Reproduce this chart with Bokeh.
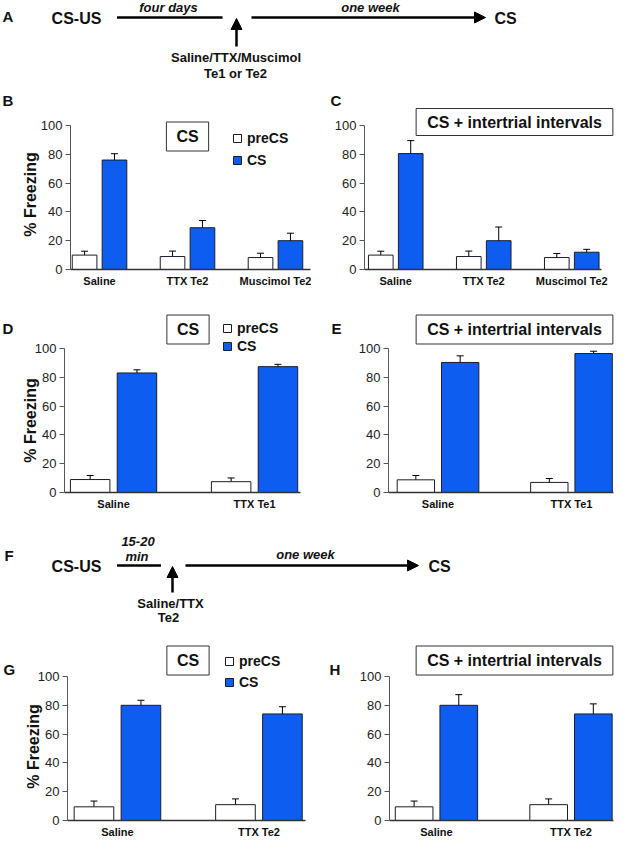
import math
from bokeh.plotting import figure
from bokeh.models import (Range1d, FixedTicker, Label, Legend, LegendItem, Whisker, TeeHead,
                          ColumnDataSource, Arrow, NormalHead)
from bokeh.layouts import column, row
from bokeh.embed import file_html
from bokeh.resources import INLINE

FONT = "Liberation Sans"
BLUE = "#0d5ef0"
EDGE = "#1c1c28"
AXC = "#333333"

# ---------------- data ----------------
groups_BC = ["Saline", "TTX Te2", "Muscimol Te2"]
B_pre = [10, 9, 8.3]
B_pre_err = [2.7, 3.8, 3.0]
B_cs = [76, 29, 20]
B_cs_err = [4.4, 5.0, 5.2]

C_pre = [10, 9, 8.3]
C_pre_err = [2.7, 3.8, 2.8]
C_cs = [80.5, 20, 12]
C_cs_err = [9.0, 9.5, 2.0]

groups_DE = ["Saline", "TTX Te1"]
D_pre = [9, 7.5]
D_pre_err = [2.8, 2.6]
D_cs = [83, 87.4]
D_cs_err = [2.2, 1.6]

E_pre = [8.8, 7.0]
E_pre_err = [3.0, 2.7]
E_cs = [90.3, 96.5]
E_cs_err = [4.6, 1.6]

groups_GH = ["Saline", "TTX Te2"]
G_pre = [9.5, 11]
G_pre_err = [4.0, 4.0]
G_cs = [80, 74]
G_cs_err = [3.5, 5.0]

H_pre = [9.5, 11]
H_pre_err = [4.0, 4.0]
H_cs = [80, 74]
H_cs_err = [7.4, 7.0]

y_ticks = [0, 20, 40, 60, 80, 100]
series_names = ["preCS", "CS"]
y_title = "% Freezing"


def bar_panel(groups, pre, pre_err, cs, cs_err, fig_box, frame, xr, off, bw,
              ylabel_pos=None, box_text=None, box_c=None, box_pad=(6, 10),
              letters=(), legend=None):
    fl, ft, fw, fh = fig_box
    L, R, T, B = frame

    def dx(px):
        return xr[0] + (px - L) / (R - L) * (xr[1] - xr[0])

    def dy(py):
        return (B - py) / (B - T) * 100.0

    p = figure(width=fw, height=fh,
               x_range=Range1d(dx(fl), dx(fl + fw)),
               y_range=Range1d(dy(ft + fh), dy(ft)),
               output_backend="svg", toolbar_location=None, min_border=0)
    p.outline_line_color = None
    p.xgrid.visible = False
    p.ygrid.visible = False
    p.background_fill_color = "white"
    p.border_fill_color = "white"

    xs = list(range(len(groups)))
    src_pre = ColumnDataSource(dict(x=[i - off for i in xs], top=pre,
                                    lo=[v - e for v, e in zip(pre, pre_err)],
                                    hi=[v + e for v, e in zip(pre, pre_err)]))
    src_cs = ColumnDataSource(dict(x=[i + off for i in xs], top=cs,
                                   lo=[v - e for v, e in zip(cs, cs_err)],
                                   hi=[v + e for v, e in zip(cs, cs_err)]))
    r_pre = p.vbar(x="x", top="top", bottom=0, width=bw, source=src_pre,
                   fill_color="white", line_color=EDGE, line_width=1)
    r_cs = p.vbar(x="x", top="top", bottom=0, width=bw, source=src_cs,
                  fill_color=BLUE, line_color=EDGE, line_width=1)
    for s in (src_pre, src_cs):
        p.add_layout(Whisker(source=s, base="x", lower="lo", upper="hi",
                             line_color="black", line_width=1,
                             lower_head=TeeHead(size=7, line_color="black", line_width=1),
                             upper_head=TeeHead(size=7, line_color="black", line_width=1)))

    # axes (drawn inside the frame at fixed data locations)
    xa = p.xaxis[0]
    xa.fixed_location = 0
    xa.bounds = (xr[0], xr[1])
    xa.ticker = FixedTicker(ticks=xs, minor_ticks=[])
    xa.major_label_overrides = {i: g for i, g in enumerate(groups)}
    xa.major_tick_out = 0
    xa.major_tick_in = 0
    xa.minor_tick_out = 0
    xa.minor_tick_in = 0
    xa.axis_line_color = AXC
    xa.axis_line_width = 1.5
    xa.major_label_text_font = FONT
    xa.major_label_text_font_size = "11px"
    xa.major_label_text_font_style = "bold"
    xa.major_label_text_color = "#111111"
    xa.major_label_standoff = 5

    ya = p.yaxis[0]
    ya.fixed_location = xr[0]
    ya.bounds = (0, 100)
    ya.ticker = FixedTicker(ticks=y_ticks, minor_ticks=[])
    ya.major_tick_out = 5
    ya.major_tick_in = 0
    ya.minor_tick_out = 0
    ya.minor_tick_in = 0
    ya.axis_line_color = "#555555"
    ya.major_tick_line_color = "#555555"
    ya.major_label_text_font = FONT
    ya.major_label_text_font_size = "13px"
    ya.major_label_text_color = "#222222"
    ya.major_label_standoff = 3

    if ylabel_pos:
        p.add_layout(Label(x=dx(ylabel_pos[0]), y=dy(ylabel_pos[1]), text=y_title,
                           angle=math.pi / 2, text_align="center", text_baseline="middle",
                           text_font=FONT, text_font_size="16px", text_font_style="bold",
                           text_color="#111111"))

    if box_text:
        p.add_layout(Label(x=dx(box_c[0]), y=dy(box_c[1]), text=box_text,
                           text_align="center", text_baseline="middle",
                           text_font=FONT, text_font_size="16px", text_font_style="bold",
                           text_color="#111111",
                           border_line_color="#333333", border_line_width=1,
                           background_fill_color="white",
                           padding=dict(left=box_pad[1], right=box_pad[1],
                                        top=box_pad[0], bottom=box_pad[0])))
    for (t, px, py) in letters:
        p.add_layout(Label(x=dx(px), y=dy(py), text=t, text_align="left",
                           text_baseline="middle", text_font=FONT,
                           text_font_size="15px", text_font_style="bold",
                           text_color="#111111"))
    if legend:
        sq_left, c0, sp = legend
        lh = 16
        bottom = c0 + sp + lh / 2
        leg = Legend(items=[LegendItem(label=series_names[0], renderers=[r_pre]),
                            LegendItem(label=series_names[1], renderers=[r_cs])],
                     location=(int(round(sq_left - fl)), int(round(ft + fh - bottom))),
                     orientation="vertical",
                     border_line_color=None, background_fill_alpha=0,
                     padding=0, margin=0, spacing=int(round(sp - lh)),
                     glyph_width=10, glyph_height=10, label_height=lh,
                     label_standoff=5, label_text_font=FONT,
                     label_text_font_size="14px", label_text_font_style="bold",
                     label_text_color="#111111")
        p.add_layout(leg)
    return p


def timeline(top, bottom, texts, segs, arrows):
    p = figure(width=614, height=bottom - top, x_range=Range1d(0, 614),
               y_range=Range1d(bottom, top), output_backend="svg",
               toolbar_location=None, min_border=0,
               x_axis_location=None, y_axis_location=None)
    p.outline_line_color = None
    p.grid.visible = False
    for (x0, y0, x1, y1) in segs:
        p.segment(x0=[x0], y0=[y0], x1=[x1], y1=[y1], line_width=2.5, line_color="black")
    for (x0, y0, x1, y1) in arrows:
        p.add_layout(Arrow(x_start=x0, y_start=y0, x_end=x1, y_end=y1,
                           line_width=2.5, line_color="black",
                           end=NormalHead(size=11, fill_color="black",
                                          line_color="black", line_width=1)))
    for (t, x, y, size, style, align) in texts:
        p.add_layout(Label(x=x, y=y, text=t, text_align=align, text_baseline="middle",
                           text_font=FONT, text_font_size=size, text_font_style=style,
                           text_color="#111111"))
    return p


# ---------------- panel A ----------------
pA = timeline(0, 92,
              texts=[("A", 2, 16, "15px", "bold", "left"),
                     ("CS-US", 76, 18, "16px", "bold", "center"),
                     ("four days", 168, 6.5, "13px", "bold italic", "center"),
                     ("one week", 370, 6.5, "13px", "bold italic", "center"),
                     ("CS", 505, 18, "16px", "bold", "center"),
                     ("Saline/TTX/Muscimol", 235.5, 57, "13px", "bold", "center"),
                     ("Te1 or Te2", 235, 73, "13px", "bold", "center")],
              segs=[(116.5, 17, 222, 17)],
              arrows=[(236, 46, 236, 18), (251, 17, 485, 17)])

# ---------------- panels B, C ----------------
pB = bar_panel(groups_BC, B_pre, B_pre_err, B_cs, B_cs_err,
               fig_box=(0, 92, 311, 218), frame=(70, 310, 125, 269),
               xr=(-0.33, 2.398), off=0.17, bw=0.28, ylabel_pos=(30, 194),
               box_text="CS", box_c=(187, 136), box_pad=(6, 10),
               letters=[("B", 2, 100)],
               legend=(232, 138, 22))
pC = bar_panel(groups_BC, C_pre, C_pre_err, C_cs, C_cs_err,
               fig_box=(311, 92, 303, 218), frame=(364, 601, 125, 269),
               xr=(-0.355, 2.338), off=0.17, bw=0.28,
               box_text="CS + intertrial intervals", box_c=(514, 121.5), box_pad=(5, 11),
               letters=[("C", 330, 100)])

# ---------------- panels D, E ----------------
pD = bar_panel(groups_DE, D_pre, D_pre_err, D_cs, D_cs_err,
               fig_box=(0, 310, 311, 202), frame=(64, 300, 348, 492),
               xr=(-0.348, 1.326), off=0.166, bw=0.28, ylabel_pos=(29.5, 420),
               box_text="CS", box_c=(187.5, 329), box_pad=(6, 10),
               letters=[("D", 2, 328)],
               legend=(222, 328, 18))
pE = bar_panel(groups_DE, E_pre, E_pre_err, E_cs, E_cs_err,
               fig_box=(311, 310, 303, 202), frame=(388, 613, 348, 492),
               xr=(-0.371, 1.315), off=0.166, bw=0.28,
               box_text="CS + intertrial intervals", box_c=(514, 329), box_pad=(6, 11),
               letters=[("E", 331, 328)])

# ---------------- panel F ----------------
pF = timeline(512, 624,
              texts=[("F", 4, 555, "15px", "bold", "left"),
                     ("CS-US", 76, 566, "16px", "bold", "center"),
                     ("15-20", 137.5, 541, "13px", "bold italic", "center"),
                     ("min", 136.5, 556, "13px", "bold italic", "center"),
                     ("one week", 305, 554, "13px", "bold italic", "center"),
                     ("CS", 439, 566, "16px", "bold", "center"),
                     ("Saline/TTX", 170, 603, "13px", "bold", "center"),
                     ("Te2", 168, 617, "13px", "bold", "center")],
              segs=[(116.5, 565, 160.5, 565)],
              arrows=[(172, 592, 172, 566), (185, 565, 418, 565)])

# ---------------- panels G, H ----------------
pG = bar_panel(groups_GH, G_pre, G_pre_err, G_cs, G_cs_err,
               fig_box=(0, 624, 311, 213), frame=(67, 305, 676, 820),
               xr=(-0.353, 1.329), off=0.166, bw=0.28, ylabel_pos=(33, 746),
               box_text="CS", box_c=(187.5, 660), box_pad=(6, 10),
               letters=[("G", 3, 669)],
               legend=(224, 661, 21))
pH = bar_panel(groups_GH, H_pre, H_pre_err, H_cs, H_cs_err,
               fig_box=(311, 624, 303, 213), frame=(389, 613, 676, 820),
               xr=(-0.349, 1.316), off=0.166, bw=0.28,
               box_text="CS + intertrial intervals", box_c=(514, 660), box_pad=(6, 11),
               letters=[("H", 329, 669)])

layout = column(pA, row(pB, pC), row(pD, pE), pF, row(pG, pH))

open("out.html", "w").write(file_html(layout, INLINE))
